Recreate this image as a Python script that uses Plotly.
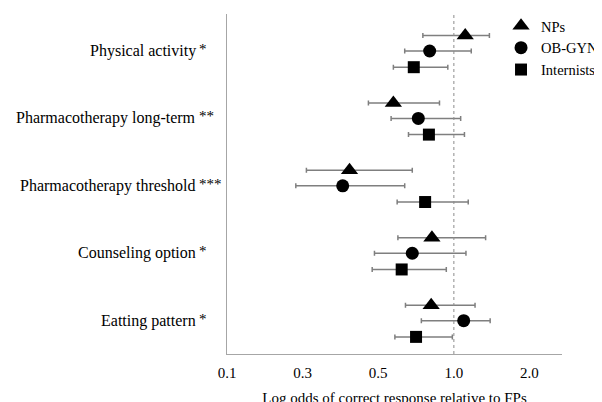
import plotly.graph_objects as go

categories = ["Physical activity", "Pharmacotherapy long-term", "Pharmacotherapy threshold",
              "Counseling option", "Eatting pattern"]
stars = ["*", "**", "***", "*", "*"]
cat_pos = [5, 4, 3, 2, 1]

tick_vals = [0, 1, 2, 3, 4]
tick_text = ["0.1", "0.3", "0.5", "1.0", "2.0"]
ref_line = 3  # position of 1.0

groups = ["NPs", "OB-GYNs", "Internists"]
symbols = ["triangle-up", "circle", "square"]
sizes = [15, 13, 12]
offsets = [0.23, 0.0, -0.24]

# values in axis units (0.1 -> 0, 0.3 -> 1, 0.5 -> 2, 1.0 -> 3, 2.0 -> 4)
np_est = [3.15, 2.20, 1.62, 2.71, 2.70]
np_lo = [2.59, 1.87, 1.05, 2.26, 2.36]
np_hi = [3.47, 2.81, 2.45, 3.42, 3.28]

ob_est = [2.68, 2.53, 1.53, 2.45, 3.13]
ob_lo = [2.35, 2.17, 0.91, 1.95, 2.57]
ob_hi = [3.23, 3.09, 2.35, 3.16, 3.48]

in_est = [2.47, 2.67, 2.62, 2.31, 2.50]
in_lo = [2.20, 2.40, 2.25, 1.92, 2.22]
in_hi = [2.92, 3.14, 3.19, 2.90, 2.98]

est = [np_est, ob_est, in_est]
lo = [np_lo, ob_lo, in_lo]
hi = [np_hi, ob_hi, in_hi]

fig = go.Figure()
for g, sym, sz, off, e, l, h in zip(groups, symbols, sizes, offsets, est, lo, hi):
    fig.add_trace(go.Scatter(
        x=e, y=[c + off for c in cat_pos], mode="markers", name=g,
        marker=dict(symbol=sym, size=sz, color="black"),
        error_x=dict(type="data", symmetric=False,
                     array=[b - a for a, b in zip(e, h)],
                     arrayminus=[a - b for a, b in zip(e, l)],
                     color="#7f7f7f", thickness=1.5, width=2.5),
    ))

fig.add_shape(type="line", xref="x", yref="paper", x0=ref_line, x1=ref_line, y0=0, y1=1,
              line=dict(color="#8c8c8c", width=1, dash="dot"))

L = 227
W = 335
for cat, st, y in zip(categories, stars, cat_pos):
    fig.add_annotation(x=(198 - L) / W, xref="paper", y=y, yref="y", text=cat,
                       showarrow=False, xanchor="right", yanchor="middle",
                       font=dict(family="Liberation Serif", size=16, color="#000000"))
    fig.add_annotation(x=(197 - L) / W, xref="paper", y=y + 0.03, yref="y", text=st,
                       showarrow=False, xanchor="left", yanchor="middle",
                       font=dict(family="Liberation Serif", size=15, color="#000000"))

fig.update_layout(
    width=602, height=402,
    margin=dict(l=219, r=48, t=6, b=56, autoexpand=False),
    paper_bgcolor="white", plot_bgcolor="white",
    font=dict(family="Liberation Serif", color="black"),
    showlegend=True,
    legend=dict(x=0.818, y=1.012, xanchor="left", yanchor="top",
                font=dict(family="Liberation Serif", size=14.5, color="black"),
                bgcolor="rgba(0,0,0,0)", itemwidth=30, tracegroupgap=0),
    xaxis=dict(range=[0, 4.43], tickmode="array", tickvals=tick_vals, ticktext=tick_text,
               showgrid=False, zeroline=False, showline=True, linecolor="#a6a6a6", linewidth=1,
               ticks="", ticklabelstandoff=5,
               tickfont=dict(family="Liberation Serif", size=15, color="black"),
               title=dict(text="Log odds of correct response relative to FPs", standoff=12,
                          font=dict(family="Liberation Serif", size=15, color="black"))),
    yaxis=dict(range=[0.506, 5.549], showgrid=False, zeroline=False, showline=True,
               linecolor="#a6a6a6", linewidth=1, showticklabels=False, ticks=""),
)

fig.write_html("out.html")
